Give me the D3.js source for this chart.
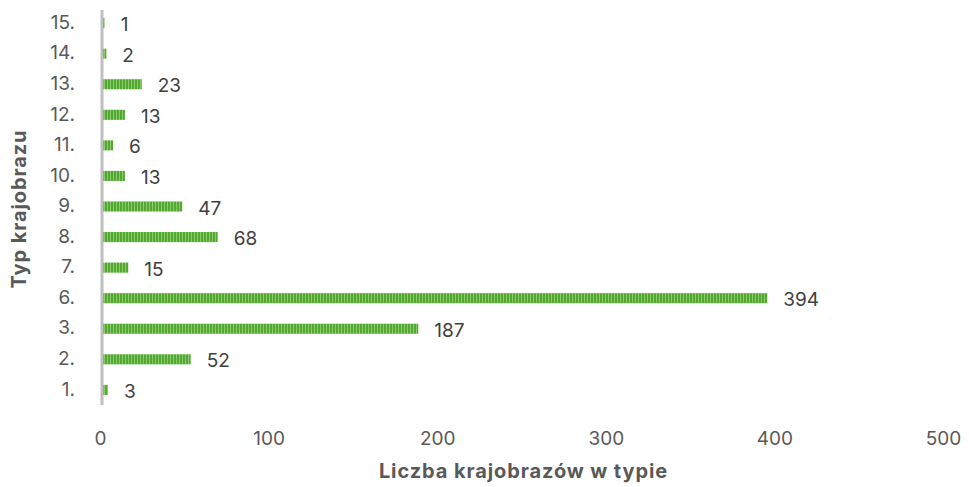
<!DOCTYPE html>
<html>
<head>
<meta charset="utf-8">
<script src="https://cdn.jsdelivr.net/npm/d3@7"></script>
<style>
  body { margin: 0; background: #fff; }
  svg { font-family: Inter, "Open Sans", sans-serif; }
</style>
</head>
<body>
<div id="chart"></div>
<script>
// landscape types, top to bottom as drawn
const types = ['15.','14.','13.','12.','11.','10.','9.','8.','7.','6.','3.','2.','1.']
const counts = [1, 2, 23, 13, 6, 13, 47, 68, 15, 394, 187, 52, 3]
const xTicks = [0, 100, 200, 300, 400, 500]

const width = 969, height = 487
const margin = {top: 8, right: 23, bottom: 82, left: 103}

const svg = d3.select('#chart').append('svg')
  .attr('width', width)
  .attr('height', height)

// striped fill for the bars
const pat = svg.append('defs').append('pattern')
  .attr('id', 'stripes')
  .attr('patternUnits', 'userSpaceOnUse')
  .attr('width', 3).attr('height', 10)
pat.append('rect').attr('width', 3).attr('height', 10).attr('fill', '#52a833')
pat.append('rect').attr('x', 2).attr('width', 1).attr('height', 10).attr('fill', '#8ccb6c')

const x = d3.scaleLinear().domain([0, 500]).range([margin.left, width - margin.right])
const y = d3.scaleBand().domain(types).range([margin.top, height - margin.bottom]).paddingInner(0.67).paddingOuter(0.33)

// y labels
const yAxis = svg.append('g')
  .attr('transform', `translate(${margin.left - 28},0)`)
  .call(d3.axisLeft(y).tickSize(0).tickPadding(0))
yAxis.select('.domain').remove()
yAxis.selectAll('.tick text')
  .attr('font-size', 19).attr('fill', '#595959')
  .attr('font-family', 'Inter, "Open Sans", sans-serif')
  .attr('dy', '0.3em')

// x labels
const xAxis = svg.append('g')
  .attr('transform', `translate(0,${height - margin.bottom + 26})`)
  .call(d3.axisBottom(x).tickValues(xTicks).tickSize(0).tickPadding(0))
xAxis.select('.domain').remove()
xAxis.selectAll('.tick text')
  .attr('font-size', 19).attr('fill', '#595959')
  .attr('font-family', 'Inter, "Open Sans", sans-serif')
  .attr('dx', -3)

svg.append('g').selectAll('rect')
  .data(counts)
  .enter().append('rect')
  .attr('x', x(0))
  .attr('y', (d, i) => y(types[i]))
  .attr('width', d => x(d) - x(0))
  .attr('height', y.bandwidth())
  .attr('fill', 'url(#stripes)')

svg.append('g').selectAll('text')
  .data(counts)
  .enter().append('text')
  .attr('x', d => x(d) + 16)
  .attr('y', (d, i) => y(types[i]) + y.bandwidth() / 2 + 8)
  .attr('font-size', 19)
  .attr('fill', '#404040')
  .text(d => d)

// vertical axis line
svg.append('line')
  .attr('x1', x(0) - 1).attr('x2', x(0) - 1)
  .attr('y1', 10).attr('y2', 405)
  .attr('stroke', '#bfbfbf')
  .attr('stroke-width', 3)

svg.append('text')
  .attr('x', (margin.left + width - margin.right) / 2 - 1)
  .attr('y', 478)
  .attr('text-anchor', 'middle')
  .attr('font-size', 20).attr('font-weight', 'bold')
  .attr('letter-spacing', 0.9)
  .attr('fill', '#595959')
  .text('Liczba krajobrazów w typie')

svg.append('text')
  .attr('transform', 'translate(26,209) rotate(-90)')
  .attr('text-anchor', 'middle')
  .attr('font-size', 20).attr('font-weight', 'bold')
  .attr('letter-spacing', 0.9)
  .attr('fill', '#595959')
  .text('Typ krajobrazu')
</script>
</body>
</html>
